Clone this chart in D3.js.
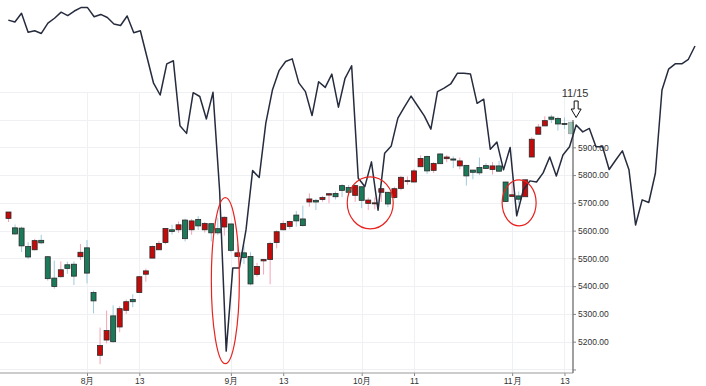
<!DOCTYPE html>
<html>
<head>
<meta charset="utf-8">
<script src="https://cdn.jsdelivr.net/npm/d3@7"></script>
<style>
  html, body { margin: 0; padding: 0; background: #fff; }
  svg { display: block; }
  .tick text { font-family: "Liberation Sans", Arial, sans-serif; fill: #333; }
</style>
</head>
<body>
<div id="chart"></div>
<script>
// S&P 500 daily candles, Jul 16 - Nov 14 2024
const dates = [
  "07-16","07-17","07-18","07-19","07-22","07-23","07-24","07-25","07-26","07-29","07-30","07-31",
  "08-01","08-02","08-05","08-06","08-07","08-08","08-09","08-12","08-13","08-14","08-15","08-16",
  "08-19","08-20","08-21","08-22","08-23","08-26","08-27","08-28","08-29","08-30",
  "09-03","09-04","09-05","09-06","09-09","09-10","09-11","09-12","09-13","09-16","09-17","09-18",
  "09-19","09-20","09-23","09-24","09-25","09-26","09-27","09-30",
  "10-01","10-02","10-03","10-04","10-07","10-08","10-09","10-10","10-11","10-14","10-15","10-16",
  "10-17","10-18","10-21","10-22","10-23","10-24","10-25","10-28","10-29","10-30","10-31",
  "11-01","11-04","11-05","11-06","11-07","11-08","11-11","11-12","11-13","11-14"
];
const opens = [
  5644,5610,5609,5543,5531,5565,5506,5429,5434,5477,5479,5506,
  5538,5377,5151,5206,5293,5253,5313,5352,5377,5443,5501,5531,
  5557,5603,5603,5638,5603,5640,5603,5625,5607,5613,
  5624,5507,5520,5507,5442,5491,5496,5557,5603,5615,5656,5642,
  5703,5709,5712,5728,5734,5762,5755,5727,
  5758,5698,5699,5738,5738,5719,5752,5778,5775,5830,5867,5817,
  5876,5859,5858,5833,5835,5818,5827,5834,5820,5833,5775,
  5723,5725,5722,5865,5947,5977,6009,6004,5986,5990
];
const highs = [
  5667,5622,5614,5558,5570,5585,5508,5492,5489,5488,5489,5552,
  5566,5384,5251,5312,5331,5328,5352,5371,5437,5463,5546,5563,
  5608,5621,5633,5643,5642,5652,5631,5627,5647,5651,
  5624,5553,5546,5522,5484,5498,5560,5601,5636,5636,5671,5690,
  5734,5715,5725,5735,5741,5767,5764,5765,
  5758,5719,5719,5754,5739,5758,5797,5795,5822,5871,5870,5847,
  5878,5872,5867,5863,5835,5818,5863,5843,5847,5851,5775,
  5772,5741,5783,5936,5984,6012,6017,6010,6008,5994
];
const lows = [
  5631,5585,5523,5497,5529,5551,5420,5391,5431,5444,5404,5494,
  5410,5302,5119,5194,5196,5234,5300,5324,5377,5416,5501,5531,
  5551,5586,5592,5561,5585,5602,5593,5561,5584,5582,
  5522,5504,5480,5403,5434,5442,5407,5536,5602,5605,5614,5615,
  5686,5674,5704,5699,5712,5721,5727,5704,
  5681,5674,5677,5703,5684,5715,5745,5765,5775,5830,5804,5808,
  5840,5846,5825,5821,5762,5785,5800,5823,5802,5811,5703,
  5723,5697,5722,5865,5947,5977,5987,5960,5966,5942
];
const closes = [
  5667,5588,5545,5505,5564,5556,5427,5399,5459,5464,5436,5522,
  5447,5347,5186,5240,5200,5319,5344,5344,5434,5455,5543,5554,
  5608,5597,5621,5571,5635,5617,5626,5592,5592,5648,
  5529,5520,5503,5408,5471,5496,5554,5596,5626,5633,5635,5618,
  5714,5703,5719,5733,5722,5745,5738,5762,
  5709,5710,5700,5751,5696,5751,5792,5780,5815,5860,5815,5842,
  5841,5865,5854,5851,5797,5810,5808,5824,5833,5814,5705,
  5729,5713,5783,5929,5973,5996,6001,5984,5985,5949
];

// overlay line (no axis of its own), one point per session, runs past 11/15
const lineVals = [
  94.7,94.2,96.5,91.5,91.9,91.2,93.9,95.2,96.8,95.9,97.1,98.0,
  98.0,95.6,96.2,95.4,93.7,93.3,95.8,91.4,91.9,85.0,78.1,75.0,
  83.2,84.0,66.9,64.9,75.6,74.6,68.7,75.7,50.0,7.6,
  29.5,29.5,39.5,55.1,53.3,67.6,76.3,81.4,83.8,84.5,78.2,75.9,
  69.6,78.5,77.0,80.5,71.8,79.4,82.7,53.1,
  50.9,57.4,44.7,59.7,61.6,68.9,71.9,74.7,72.1,69.5,66.0,75.9,
  76.8,77.9,80.7,80.7,80.5,72.8,73.9,60.7,62.6,55.3,61.2,
  43.2,50.0,52.4,52.1,54.5,58.7,53.7,59.2,61.4,67.1,
  65.3,66.2,61.4,61.4,55.4,57.9,60.3,55.3,40.8,47.4,46.7,54.4,
  76.3,81.8,83.2,83.2,84.4,87.9
];

const xTicks = ["08-01","08-13","09-03","09-13","10-01","10-11","11-01","11-13"];
const xTickLabels = ["8月","13","9月","13","10月","11","11月","13"];
const yTicks = [5100,5200,5300,5400,5500,5600,5700,5800,5900];
const gridValues = [5100,5200,5300,5400,5500,5600,5700,5800,5900,6000,6100];

// highlighted spots: [session, value at centre, half width px, half height px]
const circles = [
  ["08-30", 5420, 14, 83],
  ["10-02", 5700, 23, 26],
  ["11-01", 5700, 17, 23]
];
const markDate = "11/15";

const width = 706, height = 386;
const axisX = 573, axisY = 373, plotTop = 92;

const svg = d3.select("#chart").append("svg")
  .attr("width", width).attr("height", height);

const x = d3.scalePoint().domain(dates).range([8.5, 571]);
const y = d3.scaleLinear().domain([5200, 5900]).range([341.7, 147.3]);
const lx = d3.scaleLinear().domain([0, lineVals.length - 1]).range([8.3, 695]);
const ly = d3.scaleLinear().domain([0, 100]).range([380, 0]);

// grid
const grid = svg.append("g").attr("stroke", "#eef0f3").attr("stroke-width", 1);
grid.selectAll(".h").data(gridValues).enter().append("line")
  .attr("x1", 0).attr("x2", axisX)
  .attr("y1", d => Math.round(y(d)) + 0.5).attr("y2", d => Math.round(y(d)) + 0.5);
grid.selectAll(".v").data(xTicks).enter().append("line")
  .attr("x1", d => Math.round(x(d)) + 0.5).attr("x2", d => Math.round(x(d)) + 0.5)
  .attr("y1", plotTop).attr("y2", axisY);

// axes
const xAxis = d3.axisBottom(x).tickValues(xTicks)
  .tickFormat((d, i) => xTickLabels[i]).tickSize(3).tickPadding(2);
const gx = svg.append("g").attr("transform", `translate(0,${axisY})`).call(xAxis);
gx.select(".domain").remove();
gx.selectAll(".tick line").attr("stroke", "#888");
gx.selectAll(".tick text").style("font-size", "8.5px");
svg.append("line").attr("x1", 0).attr("x2", axisX).attr("y1", axisY).attr("y2", axisY)
  .attr("stroke", "#999").attr("stroke-width", 1.2);

const yAxis = d3.axisRight(y).tickValues(yTicks)
  .tickFormat(d => d === 5100 ? "" : d3.format(".2f")(d)).tickSize(3).tickPadding(2);
const gy = svg.append("g").attr("transform", `translate(${axisX},0)`).call(yAxis);
gy.select(".domain").remove();
gy.selectAll(".tick line").attr("stroke", "#888");
gy.selectAll(".tick text").style("font-size", "8.5px");
svg.append("line").attr("x1", axisX).attr("x2", axisX).attr("y1", 120).attr("y2", axisY)
  .attr("stroke", "#777").attr("stroke-width", 1.4);

// candles
const candles = svg.append("g").selectAll("g").data(dates).enter().append("g")
  .attr("opacity", (d, i) => i === dates.length - 1 ? 0.45 : 1);
candles.append("line")
  .attr("x1", d => x(d)).attr("x2", d => x(d))
  .attr("y1", (d, i) => y(highs[i])).attr("y2", (d, i) => y(lows[i]))
  .attr("stroke", (d, i) => closes[i] >= opens[i] ? "#f4a3b4" : "#9fcbdc")
  .attr("stroke-width", 1);
candles.append("rect")
  .attr("x", d => x(d) - 2.5).attr("width", 5)
  .attr("y", (d, i) => y(Math.max(opens[i], closes[i])))
  .attr("height", (d, i) => Math.max(1, Math.abs(y(opens[i]) - y(closes[i]))))
  .attr("fill", (d, i) => closes[i] >= opens[i] ? "#c40a0a" : "#1b7a5a")
  .attr("stroke", "#2b2b2b").attr("stroke-width", 0.8);

// overlay line
svg.append("path").datum(lineVals)
  .attr("fill", "none").attr("stroke", "#262c3e").attr("stroke-width", 1.5)
  .attr("stroke-linejoin", "round")
  .attr("d", d3.line().x((d, i) => lx(i)).y(d => ly(d)));

// red rings
svg.append("g").selectAll("ellipse").data(circles).enter().append("ellipse")
  .attr("cx", d => x(d[0]) + (d[0] === "08-30" ? 1 : d[0] === "10-02" ? 2 : 7))
  .attr("cy", d => y(d[1]))
  .attr("rx", d => d[2]).attr("ry", d => d[3])
  .attr("fill", "none").attr("stroke", "#e8231f").attr("stroke-width", 1.2);

// 11/15 marker
const mx = lx(86);
svg.append("text").attr("x", mx - 1).attr("y", 97).attr("text-anchor", "middle")
  .style("font-family", "'Liberation Sans', Arial, sans-serif").style("font-size", "11px")
  .attr("fill", "#333").text(markDate);
svg.append("path")
  .attr("d", `M${mx - 2},101 h4 v8 h3 l-5,8.5 l-5,-8.5 h3 z`)
  .attr("fill", "#fff").attr("stroke", "#111").attr("stroke-width", 1);
</script>
</body>
</html>
